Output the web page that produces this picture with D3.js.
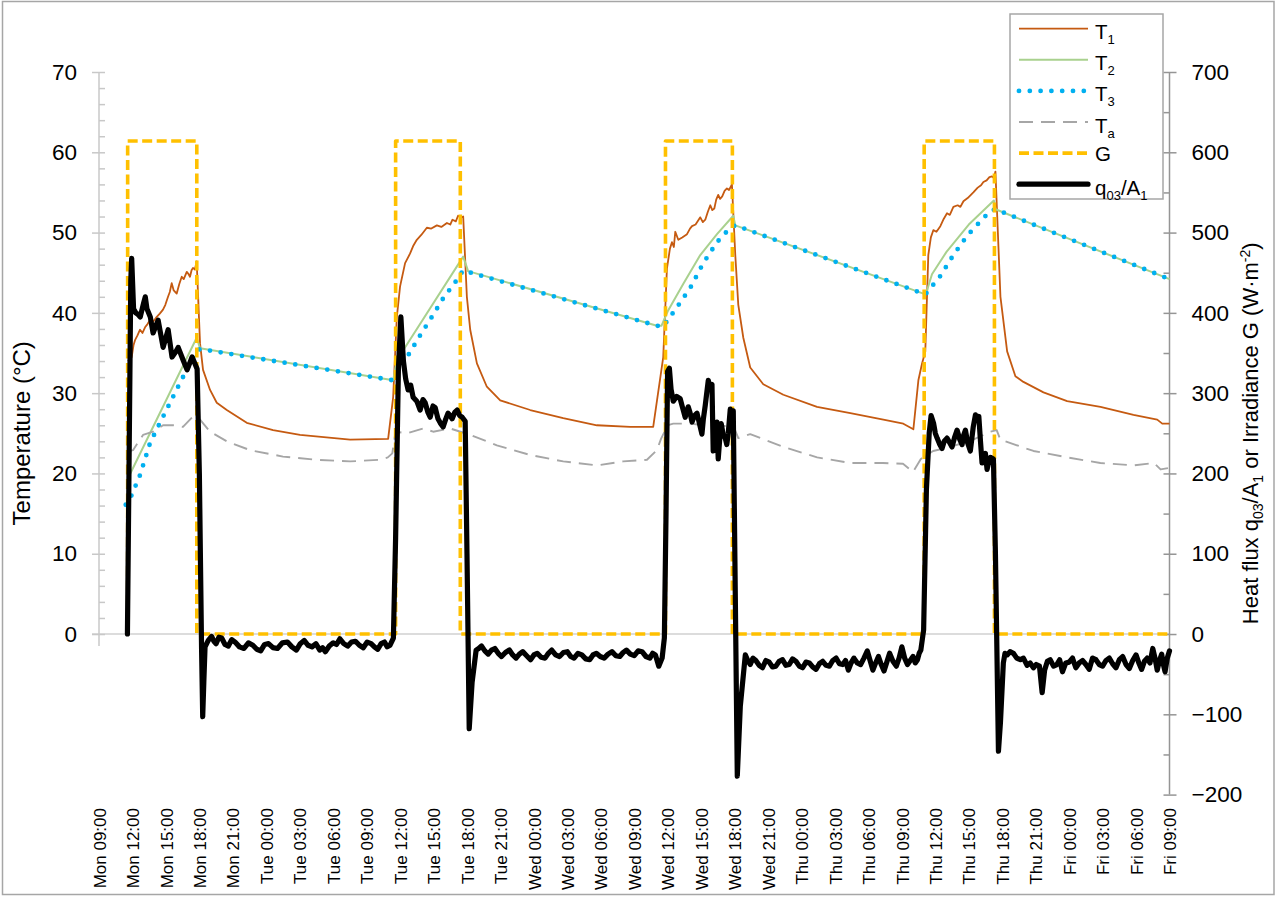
<!DOCTYPE html>
<html>
<head>
<meta charset="utf-8">
<script src="https://cdn.jsdelivr.net/npm/d3@7"></script>
<style>
  body { margin: 0; background: #fff; }
  svg { display: block; }
  text { font-family: "Liberation Sans", Arial, Helvetica, sans-serif; fill: #000; }
</style>
</head>
<body>
<svg id="chart" width="1279" height="897"></svg>
<script>
// ---- measured series: [hours since Mon 09:00, value] ----
const t1Series = [
  [2.6,34.0],[2.93,34.5],[3.1,36.0],[3.23,36.6],[3.45,37.2],[3.68,37.9],[3.9,37.5],[4.13,38.2],[4.35,38.6],
  [4.58,39.1],[4.85,38.9],[5.18,39.5],[5.45,39.9],[5.74,40.4],[5.95,41.0],[6.19,42.0],[6.35,42.6],[6.52,43.7],
  [6.7,42.8],[6.97,42.4],[7.2,43.6],[7.42,44.5],[7.6,44.2],[7.87,45.1],[8.0,44.9],[8.16,44.5],[8.3,45.3],
  [8.43,45.6],[8.6,45.4],[8.76,46.4],
  [9.06,36.2],[9.33,32.9],[9.96,30.4],[10.56,28.8],[11.46,27.9],[13.25,26.3],[15.61,25.4],[18.03,24.8],
  [22.52,24.2],[25.93,24.3],
  [26.38,29.5],[26.71,39.5],[27.0,43.3],[27.45,46.2],[27.9,47.4],[28.2,48.4],[28.5,49.1],[28.9,49.7],[29.4,50.6],
  [29.8,50.5],[30.3,50.9],[30.7,50.7],[31.2,51.2],[31.5,51.0],[31.7,51.6],[32.0,51.4],[32.2,52.1],[32.45,51.9],
  [32.66,52.0],[32.99,42.0],[33.29,37.9],[33.89,33.7],[34.78,30.8],
  [35.98,29.1],[38.67,27.9],[41.63,26.9],[44.65,26.0],[47.64,25.8],[49.7,25.8],
  [50.6,34.5],[50.93,45.5],[51.2,48.0],[51.38,48.8],[51.55,48.2],[51.68,50.1],[51.95,49.1],[52.3,49.4],[52.73,49.8],
  [53.0,50.5],[53.18,50.8],[53.5,51.0],[53.92,51.9],[54.15,51.3],[54.37,51.6],[54.6,52.6],[54.82,53.4],[55.0,52.8],
  [55.18,53.0],[55.35,54.1],[55.53,54.7],[55.7,54.2],[55.89,54.5],[56.1,55.2],[56.31,55.5],[56.5,55.3],[56.76,56.0],
  [57.06,47.2],[57.33,41.0],[57.78,36.9],[58.4,33.2],[59.57,31.1],[61.37,29.8],[64.39,28.3],[67.38,27.5],
  [70.34,26.7],[72.13,26.2],[73.03,25.5],
  [73.48,31.6],[73.81,33.7],[74.1,35.2],[74.37,47.2],[74.6,49.4],[74.82,50.3],[75.1,50.1],[75.45,50.8],[75.75,51.7],
  [76.05,52.4],[76.3,52.2],[76.62,53.2],[77.0,53.4],[77.25,53.2],[77.52,53.9],[77.9,54.3],[78.41,55.0],[78.8,55.6],
  [79.1,55.9],[79.31,56.3],[79.6,56.5],[79.85,56.9],[80.09,57.0],[80.25,56.8],[80.39,57.6],
  [80.84,42.0],[81.44,35.2],[82.18,32.1],[82.9,31.4],[84.7,30.1],[86.82,29.0],[89.81,28.3],[92.77,27.3],
  [94.9,26.7],[95.35,26.2],[96.0,26.2]
];
const t2Series = [
  [2.6,19.4],[8.76,36.9],[9.06,35.6],[26.38,31.6],[26.71,34.1],[32.66,47.0],[33.1,45.2],
  [50.03,38.4],[50.45,38.4],[51.0,40.2],[52.39,43.6],[53.92,47.2],[55.42,49.8],[56.88,52.1],[57.06,50.9],
  [74.11,42.3],[74.3,43.0],[74.7,44.8],[76.0,47.6],[78.0,51.0],[80.25,54.0],[80.4,52.9],[96.0,44.2]
];
const t3Series = [
  [2.4,16.1],[2.93,17.3],[3.68,19.8],[4.58,23.8],[5.47,26.3],[6.37,28.8],[7.27,31.3],[8.16,33.7],
  [8.77,35.2],[9.06,35.5],[26.38,31.6],[27.72,34.7],[28.8,37.2],[29.85,39.5],[30.86,41.8],[32.09,44.1],
  [32.66,45.3],[33.1,45.1],[50.03,38.4],[50.6,38.3],[51.83,40.7],[53.02,43.1],[54.19,46.2],[55.42,48.8],
  [56.61,50.6],[57.06,50.9],[74.11,42.3],[75.45,44.6],[76.62,47.2],[77.85,49.6],[79.04,51.4],[79.94,52.7],
  [80.39,52.9],[96.0,44.2]
];
const taSeries = [
  [2.49,22.7],[3.05,22.9],[3.95,24.8],[4.85,25.2],[5.74,26.0],[6.64,26.0],[7.53,25.8],[8.43,27.1],
  [9.06,26.7],[9.96,25.2],[11.46,24.0],[13.55,22.9],[16.5,22.1],[19.53,21.7],[22.52,21.5],[25.2,21.7],
  [25.9,22.0],[26.3,22.5],[26.6,25.2],[27.6,25.0],[29.07,25.6],[29.97,25.2],[31.49,25.6],[33.29,24.8],
  [35.68,23.5],[38.67,22.3],[41.63,21.5],[44.65,21.0],[47.0,21.5],[49.14,21.7],[50.03,22.9],[50.4,24.3],
  [51.0,26.0],[51.5,26.2],[53.0,26.2],[54.8,25.9],[56.9,25.9],[57.33,24.4],[58.4,24.9],[61.4,23.3],
  [64.4,22.0],[67.4,21.3],[70.3,21.3],[72.1,21.2],[73.0,20.2],[73.7,21.8],[74.8,22.8],[76.35,23.3],
  [78.4,24.2],[79.94,25.2],[80.5,25.4],[80.84,24.2],[83.8,22.8],[86.82,22.0],[89.8,21.3],[92.8,21.0],
  [94.6,21.3],[95.2,20.5],[96.0,20.7]
];
const irradianceSeries = [
  [2.57,0],[2.57,614],[8.77,614],[8.77,0],[26.6,0],[26.6,614],[32.4,614],[32.4,0],
  [50.8,0],[50.8,614],[56.8,614],[56.8,0],[74.0,0],[74.0,614],[80.3,614],[80.3,0],[96.0,0]
];
const fluxSeries = [
  [2.55,0],[2.85,440],[2.93,468],[3.1,405],[3.3,400],[3.5,398],[3.7,395],[4.0,412],[4.15,420],[4.3,405],
  [4.6,395],[4.85,375],[5.3,391],[5.75,357],[6.2,379],[6.55,345],[6.9,352],[7.1,357],[7.55,341],[7.9,329],
  [8.35,345],[8.6,337],[8.8,330],[9.0,200],[9.2,-20],[9.3,-103],[9.4,-60],[9.51,-16],[9.8,-8],[10.1,-3],
  [10.3,-9],[10.5,-12],[10.75,-4],[11.0,-5],[11.3,-13],[11.6,-15],[11.9,-7],[12.2,-10],[12.6,-16],[13.0,-18],
  [13.4,-11],[13.8,-14],[14.15,-19],[14.5,-21],[14.85,-13],[15.2,-12],[15.6,-17],[16.0,-18],[16.45,-11],
  [16.9,-10],[17.3,-16],[17.7,-20],[18.05,-12],[18.4,-8],[18.75,-14],[19.1,-16],[19.45,-12],[19.8,-20],
  [20.05,-17],[20.3,-22],[20.65,-15],[21.0,-11],[21.3,-13],[21.6,-6],[21.95,-12],[22.3,-15],[22.65,-10],
  [23.0,-9],[23.35,-14],[23.7,-17],[24.05,-10],[24.4,-12],[24.7,-16],[25.0,-19],[25.3,-12],[25.6,-10],
  [25.85,-16],[26.1,-14],[26.4,-5],
  [26.6,120],[26.85,330],[27.07,395],[27.3,340],[27.5,318],[27.72,304],[27.95,310],[28.17,295],[28.5,290],
  [28.8,279],[29.05,292],[29.25,288],[29.5,276],[29.7,270],[29.95,284],[30.15,282],[30.4,268],[30.6,263],
  [30.86,258],[31.1,268],[31.3,275],[31.5,272],[31.67,268],[31.9,276],[32.12,279],[32.35,272],[32.57,270],
  [32.84,265],
  [33.0,100],[33.2,-118],[33.46,-60],[33.82,-20],
  [34.05,-18],[34.3,-15],[34.6,-21],[34.9,-25],[35.2,-20],[35.5,-18],[35.8,-24],[36.1,-28],[36.45,-23],
  [36.8,-20],[37.1,-26],[37.4,-30],[37.7,-25],[38.0,-22],[38.35,-27],[38.7,-32],[39.0,-26],[39.3,-24],
  [39.65,-29],[40.0,-30],[40.3,-24],[40.6,-20],[40.95,-26],[41.3,-28],[41.65,-23],[42.0,-22],[42.3,-28],
  [42.6,-30],[42.95,-24],[43.3,-26],[43.65,-31],[44.0,-32],[44.3,-26],[44.6,-24],[44.95,-28],[45.3,-30],
  [45.65,-25],[46.0,-22],[46.35,-27],[46.7,-28],[47.0,-23],[47.3,-20],[47.65,-25],[48.0,-27],[48.35,-21],
  [48.7,-22],[49.05,-28],[49.4,-30],[49.65,-24],[49.9,-26],[50.2,-40],[50.5,-30],[50.7,-5],
  [50.85,150],[50.99,327],[51.15,331],[51.3,305],[51.5,290],[51.8,296],[52.12,293],[52.35,281],[52.57,270],
  [52.84,283],[53.0,276],[53.18,264],[53.4,272],[53.63,275],[53.85,262],[54.07,249],[54.2,268],[54.37,285],
  [54.5,300],[54.64,316],[54.8,305],[54.97,311],[55.08,228],[55.25,250],[55.42,264],[55.53,218],[55.65,240],
  [55.8,262],[55.95,250],[56.16,244],[56.3,236],[56.43,250],[56.61,280],[56.75,270],[56.88,278],
  [57.06,50],[57.24,-177],[57.51,-90],[57.96,-26],
  [58.15,-32],[58.4,-38],[58.65,-30],[58.9,-33],[59.2,-39],[59.5,-42],[59.8,-33],[60.1,-35],[60.4,-41],
  [60.7,-40],[61.0,-34],[61.3,-32],[61.6,-39],[61.9,-38],[62.2,-31],[62.5,-34],[62.8,-40],[63.1,-42],
  [63.4,-35],[63.7,-36],[64.0,-41],[64.3,-44],[64.6,-37],[64.9,-34],[65.2,-39],[65.5,-40],[65.8,-33],
  [66.1,-30],[66.4,-37],[66.7,-38],[66.95,-33],[67.2,-45],[67.45,-36],[67.7,-30],[68.0,-36],[68.3,-38],
  [68.6,-30],[68.9,-21],[69.15,-33],[69.4,-45],[69.65,-36],[69.9,-28],[70.15,-38],[70.4,-46],[70.65,-35],
  [70.9,-24],[71.2,-34],[71.5,-40],[71.75,-30],[72.0,-16],[72.25,-30],[72.5,-38],[72.75,-33],[73.0,-28],
  [73.2,-36],[73.4,-32],[73.55,-24],[73.7,-20],[73.95,5],
  [74.2,180],[74.45,250],[74.62,272],[74.85,262],[75.0,250],[75.16,244],[75.4,236],[75.6,231],[75.8,240],
  [76.05,244],[76.3,238],[76.5,233],[76.75,246],[76.95,254],[77.2,242],[77.4,236],[77.55,248],[77.7,254],
  [77.9,238],[78.14,228],[78.4,258],[78.6,273],[78.75,268],[78.9,271],[79.05,240],[79.19,213],[79.35,222],
  [79.49,225],[79.64,205],[79.8,215],[79.94,220],[80.21,218],
  [80.39,100],[80.66,-146],[80.84,-110],[81.1,-36],[81.25,-24],[81.44,-26],[81.7,-22],[82.0,-24],[82.3,-30],
  [82.63,-32],[82.9,-30],[83.23,-39],[83.5,-36],[83.8,-42],[84.05,-38],[84.34,-40],[84.58,-73],[84.8,-45],
  [85.05,-34],[85.3,-32],[85.6,-40],[85.9,-38],[86.15,-32],[86.4,-47],[86.7,-36],[87.0,-35],[87.3,-30],
  [87.6,-42],[87.9,-36],[88.2,-33],[88.5,-38],[88.8,-44],[89.1,-30],[89.4,-32],[89.7,-38],[90.0,-40],
  [90.3,-33],[90.6,-30],[90.9,-37],[91.2,-42],[91.5,-32],[91.8,-28],[92.1,-38],[92.4,-43],[92.7,-33],
  [93.0,-26],[93.25,-36],[93.5,-44],[93.75,-34],[94.0,-30],[94.25,-36],[94.5,-18],[94.7,-30],[94.9,-45],
  [95.1,-33],[95.3,-25],[95.45,-38],[95.6,-47],[95.8,-30],[96.0,-21]
];

// ---- axis ticks ----
const tempTicks = [0, 10, 20, 30, 40, 50, 60, 70];
const tempMinorTicks = d3.range(2, 70, 2).filter(v => v % 10 !== 0);
const fluxTicks = [-200, -100, 0, 100, 200, 300, 400, 500, 600, 700];
const fluxMinorTicks = d3.range(-150, 700, 100);
const spanHours = 96;
const startTime = new Date(2019, 6, 1, 9, 0, 0); // a Monday, 09:00

const toDate = h => new Date(startTime.getTime() + h * 3600e3);

// ---- layout ----
const svg = d3.select("#chart");
const plotLeft = 99, plotRight = 1169.5, plotTop = 72, plotBottom = 794.6;
const leftAxisColor = "#c8c8c8", rightAxisColor = "#959595";

const x = d3.scaleTime().domain([toDate(0), toDate(spanHours)]).range([plotLeft, plotRight]);
const yR = d3.scaleLinear().domain([-200, 700]).range([plotBottom, plotTop]);
const yL = d3.scaleLinear().domain([-20, 70]).range([plotBottom, plotTop]);

// outer chart frame
svg.append("rect").attr("x", 2.5).attr("y", 1.5).attr("width", 1271.5).attr("height", 893)
  .attr("fill", "none").attr("stroke", "#a6a6a6").attr("stroke-width", 1.5);

// horizontal axis line at zero
svg.append("line").attr("x1", plotLeft - 7).attr("x2", plotRight).attr("y1", yL(0)).attr("y2", yL(0))
  .attr("stroke", "#d0d0d0").attr("stroke-width", 1.5);

// ---- left axis (temperature) ----
const gL = svg.append("g").attr("transform", `translate(${plotLeft},0)`);
gL.append("line").attr("x1", 0).attr("x2", 0).attr("y1", yL(70)).attr("y2", yL(0) + 12)
  .attr("stroke", leftAxisColor).attr("stroke-width", 1.5);
gL.append("g").call(d3.axisRight(yL).tickValues(tempMinorTicks).tickSize(6).tickFormat(""))
  .call(g => g.select(".domain").remove())
  .call(g => g.selectAll(".tick line").attr("stroke", leftAxisColor).attr("stroke-width", 1.5));
gL.append("g").call(d3.axisLeft(yL).tickValues(tempTicks).tickSize(7).tickPadding(15))
  .call(g => g.select(".domain").remove())
  .call(g => g.selectAll(".tick line").attr("x1", 6).attr("stroke", leftAxisColor).attr("stroke-width", 1.5))
  .call(g => g.selectAll(".tick text").attr("font-size", 22.5).attr("font-family", null));

// ---- right axis (flux / irradiance) ----
const gR = svg.append("g").attr("transform", `translate(${plotRight},0)`);
gR.append("line").attr("x1", 0).attr("x2", 0).attr("y1", yR(700)).attr("y2", yR(-200))
  .attr("stroke", rightAxisColor).attr("stroke-width", 1.5);
gR.append("g").call(d3.axisLeft(yR).tickValues(fluxMinorTicks).tickSize(6).tickFormat(""))
  .call(g => g.select(".domain").remove())
  .call(g => g.selectAll(".tick line").attr("stroke", rightAxisColor).attr("stroke-width", 1.5));
gR.append("g").call(d3.axisRight(yR).tickValues(fluxTicks).tickSize(7).tickPadding(15))
  .call(g => g.select(".domain").remove())
  .call(g => g.selectAll(".tick line").attr("x1", -6).attr("stroke", rightAxisColor).attr("stroke-width", 1.5))
  .call(g => g.selectAll(".tick text").attr("font-size", 22.5).attr("font-family", null));

// ---- time axis labels ----
svg.append("g").attr("transform", "translate(0,808)")
  .call(d3.axisBottom(x).ticks(d3.timeHour.every(3)).tickFormat(d3.timeFormat("%a %H:%M")).tickSize(0))
  .call(g => g.select(".domain").remove())
  .call(g => g.selectAll(".tick text")
    .attr("transform", "rotate(-90)").attr("text-anchor", "end")
    .attr("x", 0).attr("y", 0).attr("dy", "0.36em")
    .attr("font-size", 17).attr("font-family", null));

// ---- axis titles ----
svg.append("text").attr("transform", `translate(22,${(plotTop + plotBottom) / 2}) rotate(-90)`)
  .attr("text-anchor", "middle").attr("dy", "0.35em").attr("font-size", 24)
  .text("Temperature (°C)");

const rightTitle = svg.append("text")
  .attr("transform", `translate(1250,${(plotTop + plotBottom) / 2}) rotate(-90)`)
  .attr("text-anchor", "middle").attr("dy", "0.35em").attr("font-size", 22);
rightTitle.append("tspan").text("Heat flux q");
rightTitle.append("tspan").attr("font-size", 14).attr("dy", 5).text("03");
rightTitle.append("tspan").attr("dy", -5).text("/A");
rightTitle.append("tspan").attr("font-size", 14).attr("dy", 5).text("1");
rightTitle.append("tspan").attr("dy", -5).text(" or Irradiance G (W·m");
rightTitle.append("tspan").attr("font-size", 14).attr("dy", -8).text("-2");
rightTitle.append("tspan").attr("dy", 8).text(")");

// ---- series ----
const lineL = d3.line().x(d => x(toDate(d[0]))).y(d => yL(d[1]));
const lineR = d3.line().x(d => x(toDate(d[0]))).y(d => yR(d[1]));

const styles = {
  t1: { stroke: "#c55a11", width: 1.8, dash: null, cap: "butt" },
  t2: { stroke: "#a9d18e", width: 2.0, dash: null, cap: "butt" },
  t3: { stroke: "#00b0f0", width: 4.8, dash: "0 10.8", cap: "round" },
  ta: { stroke: "#a6a6a6", width: 1.9, dash: "14 8", cap: "butt" },
  g:  { stroke: "#ffc000", width: 3.6, dash: "10 4.5", cap: "butt" },
  q:  { stroke: "#000000", width: 5.2, dash: null, cap: "round" }
};

function drawSeries(data, gen, st) {
  svg.append("path").datum(data).attr("d", gen)
    .attr("fill", "none").attr("stroke", st.stroke).attr("stroke-width", st.width)
    .attr("stroke-dasharray", st.dash).attr("stroke-linecap", st.cap).attr("stroke-linejoin", "round");
}

drawSeries(t1Series, lineL, styles.t1);
drawSeries(t2Series, lineL, styles.t2);
drawSeries(t3Series, lineL, styles.t3);
drawSeries(taSeries, lineL, styles.ta);
drawSeries(irradianceSeries, lineR, styles.g);
drawSeries(fluxSeries, lineR, styles.q);

// ---- legend ----
const legendItems = [
  { key: "t1", main: "T", sub: "1" },
  { key: "t2", main: "T", sub: "2" },
  { key: "t3", main: "T", sub: "3" },
  { key: "ta", main: "T", sub: "a" },
  { key: "g",  main: "G", sub: null },
  { key: "q",  main: "q", sub: "03", rest: "/A", sub2: "1" }
];
const legend = svg.append("g");
legend.append("rect").attr("x", 1010).attr("y", 14).attr("width", 153).attr("height", 185)
  .attr("fill", "#fff").attr("stroke", "#a6a6a6").attr("stroke-width", 1.5);
legendItems.forEach((it, i) => {
  const yy = 28.7 + i * 31.1;
  const st = styles[it.key];
  legend.append("line").attr("x1", 1019).attr("x2", 1088).attr("y1", yy).attr("y2", yy)
    .attr("stroke", st.stroke).attr("stroke-width", st.width)
    .attr("stroke-dasharray", st.dash).attr("stroke-linecap", st.cap);
  const t = legend.append("text").attr("x", 1095).attr("y", yy + (it.sub ? 10.5 : 7.5)).attr("font-size", 20.5);
  t.append("tspan").text(it.main);
  if (it.sub) t.append("tspan").attr("font-size", 13).attr("dy", 5).text(it.sub);
  if (it.rest) t.append("tspan").attr("dy", -5).text(it.rest);
  if (it.sub2) t.append("tspan").attr("font-size", 13).attr("dy", 5).text(it.sub2);
});
</script>
</body>
</html>
